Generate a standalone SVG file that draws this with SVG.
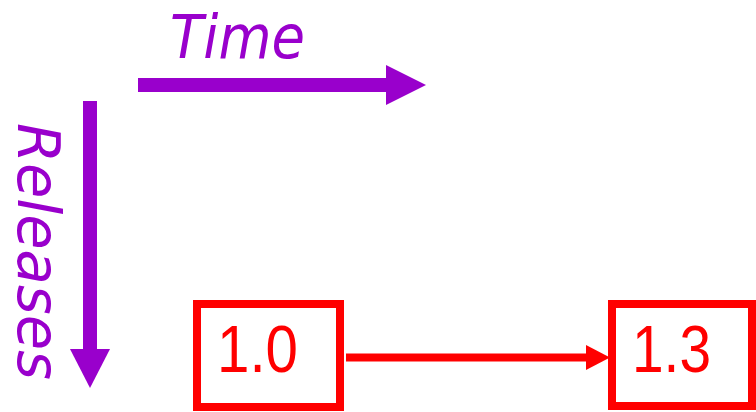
<svg xmlns="http://www.w3.org/2000/svg" width="756" height="412" viewBox="0 0 756 412">
<style>
.axis{fill:#9900CC;font-family:"DejaVu Sans","Liberation Sans",sans-serif;font-style:italic}
.lbl{fill:#FF0000;font-family:"Liberation Sans","DejaVu Sans",sans-serif;font-size:66px}
.box{fill:#FFFFFF;stroke:#FF0000;stroke-width:8}
</style>
<rect width="756" height="412" fill="#FFFFFF"/>
<g id="time-axis">
<rect x="138" y="78" width="249" height="14" fill="#9900CC"/>
<polygon points="386,65 426,85 386,105" fill="#9900CC"/>
<text class="axis" x="170" y="58" font-size="61" textLength="135" lengthAdjust="spacingAndGlyphs">Time</text>
</g>
<g id="releases-axis">
<rect x="83" y="101" width="14" height="250" fill="#9900CC"/>
<polygon points="70,349 110,349 90,388" fill="#9900CC"/>
<text class="axis" transform="translate(18,123) rotate(90)" font-size="58" textLength="257" lengthAdjust="spacingAndGlyphs">Releases</text>
</g>
<g id="connectors">
<line x1="346" y1="357.5" x2="588" y2="357.5" stroke="#FF0000" stroke-width="8"/>
<polygon points="586,345 610,357.5 586,370" fill="#FF0000"/>
</g>
<g id="node-1-0">
<rect class="box" x="197" y="304" width="143" height="103"/>
<text class="lbl" x="217" y="372" textLength="81" lengthAdjust="spacingAndGlyphs">1.0</text>
</g>
<g id="node-1-3">
<rect class="box" x="612" y="304" width="140" height="102"/>
<text class="lbl" x="632" y="372" textLength="79" lengthAdjust="spacingAndGlyphs">1.3</text>
</g>
</svg>
